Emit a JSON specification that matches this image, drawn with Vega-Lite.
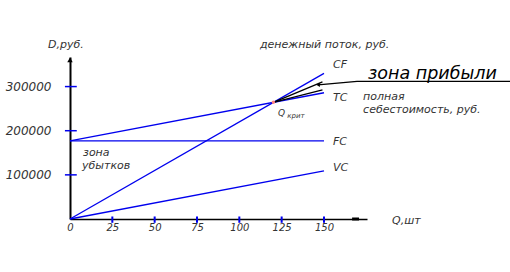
{
  "$schema": "https://vega.github.io/schema/vega-lite/v6.json",
  "width": 297,
  "height": 162,
  "autosize": {"type": "none"},
  "padding": {"left": 70, "top": 57, "right": 143, "bottom": 53},
  "background": "white",
  "config": {"view": {"stroke": null}, "font": "DejaVu Sans"},
  "datasets": {
    "lines": [
      {"series": "CF", "q": 0, "value": 0},
      {"series": "CF", "q": 150, "value": 330000},
      {"series": "TC", "q": 0, "value": 177000},
      {"series": "TC", "q": 150, "value": 286000},
      {"series": "FC", "q": 0, "value": 177000},
      {"series": "FC", "q": 150, "value": 177000},
      {"series": "VC", "q": 0, "value": 0},
      {"series": "VC", "q": 150, "value": 109000},
      {"series": "H1", "q": 120.1, "value": 264300},
      {"series": "H1", "q": 149.1, "value": 310800},
      {"series": "H2", "q": 120.1, "value": 264300},
      {"series": "H2", "q": 149.1, "value": 292700},
      {"series": "L", "q": 146.5, "value": 304000},
      {"series": "L", "q": 169.5, "value": 312000},
      {"series": "L", "q": 260, "value": 312000}
    ],
    "yticks": [{"value": 100000}, {"value": 200000}, {"value": 300000}],
    "xticks": [{"q": 25}, {"q": 50}, {"q": 75}, {"q": 100}, {"q": 125}, {"q": 150}],
    "notes": [
      {"q": -13, "value": 394700, "label": "D,руб."},
      {"q": 112.2, "value": 394700, "label": "денежный поток, руб."},
      {"q": 155.3, "value": 349300, "label": "CF"},
      {"q": 155.3, "value": 274600, "label": "TC"},
      {"q": 173.1, "value": 276300, "label": "полная"},
      {"q": 173.1, "value": 246800, "label": "себестоимость, руб."},
      {"q": 155.3, "value": 174900, "label": "FC"},
      {"q": 155.3, "value": 116000, "label": "VC"},
      {"q": 7.7, "value": 150300, "label": "зона"},
      {"q": 7.1, "value": 120800, "label": "убытков"},
      {"q": 190.2, "value": -4100, "label": "Q,шт"}
    ],
    "qmain": [{"q": 122.9, "value": 240600, "label": "Q"}],
    "qsub": [{"q": 128.3, "value": 234000, "label": "крит"}],
    "big": [{"q": 176, "value": 317600, "label": "зона прибыли"}],
    "breakeven": [{"q": 120.1, "value": 264300}],
    "arrow": [{"q": 146.5, "value": 304000}]
  },
  "layer": [
    {
      "data": {"name": "lines"},
      "mark": {"type": "line", "strokeWidth": 1.3},
      "encoding": {
        "x": {
          "field": "q", "type": "quantitative",
          "scale": {"domain": [0, 175.4], "nice": false, "zero": false},
          "axis": {
            "values": [0, 25, 50, 75, 100, 125, 150], "title": null, "ticks": false, "tickSize": 0,
            "grid": false, "domainColor": "black", "domainWidth": 1.5, "labelPadding": 3,
            "labelFontSize": 10, "labelFontStyle": "italic", "labelColor": "#333",
            "labelFlush": false, "labelOverlap": false, "labelFont": "DejaVu Sans"
          }
        },
        "y": {
          "field": "value", "type": "quantitative",
          "scale": {"domain": [0, 367000], "nice": false},
          "axis": {
            "values": [100000, 200000, 300000], "format": "d", "title": null, "ticks": false, "tickSize": 0,
            "grid": false, "domainColor": "black", "domainWidth": 2, "labelPadding": 19,
            "labelFontSize": 12, "labelFontStyle": "italic", "labelColor": "#333",
            "labelOverlap": false, "labelFont": "DejaVu Sans"
          }
        },
        "color": {
          "field": "series", "type": "nominal", "legend": null,
          "scale": {"domain": ["CF", "TC", "FC", "VC", "H1", "H2", "L"],
                    "range": ["#0000ee", "#0000ee", "#0000ee", "#0000ee", "#000000", "#000000", "#000000"]}
        }
      }
    },
    {
      "data": {"name": "yticks"},
      "mark": {"type": "rule", "color": "#0000ee", "strokeWidth": 1.5},
      "encoding": {
        "x": {"datum": -3, "type": "quantitative"},
        "x2": {"datum": 4},
        "y": {"field": "value", "type": "quantitative"}
      }
    },
    {
      "data": {"name": "xticks"},
      "mark": {"type": "rule", "color": "#0000ee", "strokeWidth": 2},
      "encoding": {
        "x": {"field": "q", "type": "quantitative"},
        "y": {"datum": 5700, "type": "quantitative"},
        "y2": {"datum": -8600}
      }
    },
    {
      "data": {"values": [{}]},
      "mark": {"type": "point", "shape": "triangle-up", "filled": true, "color": "black", "size": 30, "opacity": 1},
      "encoding": {
        "x": {"datum": 0, "type": "quantitative"},
        "y": {"datum": 360700, "type": "quantitative"}
      }
    },
    {
      "data": {"values": [{}]},
      "mark": {"type": "rule", "color": "black", "strokeWidth": 3},
      "encoding": {
        "x": {"datum": 166.6, "type": "quantitative"},
        "x2": {"datum": 170.7},
        "y": {"datum": 0, "type": "quantitative"}
      }
    },
    {
      "data": {"name": "arrow"},
      "mark": {"type": "point", "shape": "triangle-left", "filled": true, "color": "black", "size": 18, "opacity": 1},
      "encoding": {
        "x": {"field": "q", "type": "quantitative"},
        "y": {"field": "value", "type": "quantitative"}
      }
    },
    {
      "data": {"name": "breakeven"},
      "mark": {"type": "point", "shape": "circle", "filled": true, "color": "#ff8080", "size": 12, "opacity": 1},
      "encoding": {
        "x": {"field": "q", "type": "quantitative"},
        "y": {"field": "value", "type": "quantitative"}
      }
    },
    {
      "data": {"name": "notes"},
      "mark": {"type": "text", "align": "left", "baseline": "middle", "fontSize": 11, "fontStyle": "italic", "color": "#333", "font": "DejaVu Sans"},
      "encoding": {
        "x": {"field": "q", "type": "quantitative"},
        "y": {"field": "value", "type": "quantitative"},
        "text": {"field": "label"}
      }
    },
    {
      "data": {"name": "qmain"},
      "mark": {"type": "text", "align": "left", "baseline": "middle", "fontSize": 9, "fontStyle": "italic", "color": "#333", "font": "DejaVu Sans"},
      "encoding": {
        "x": {"field": "q", "type": "quantitative"},
        "y": {"field": "value", "type": "quantitative"},
        "text": {"field": "label"}
      }
    },
    {
      "data": {"name": "qsub"},
      "mark": {"type": "text", "align": "left", "baseline": "middle", "fontSize": 7, "fontStyle": "italic", "color": "#333", "font": "DejaVu Sans"},
      "encoding": {
        "x": {"field": "q", "type": "quantitative"},
        "y": {"field": "value", "type": "quantitative"},
        "text": {"field": "label"}
      }
    },
    {
      "data": {"name": "big"},
      "mark": {"type": "text", "align": "left", "baseline": "alphabetic", "fontSize": 17.5, "fontStyle": "italic", "color": "black", "font": "DejaVu Sans"},
      "encoding": {
        "x": {"field": "q", "type": "quantitative"},
        "y": {"field": "value", "type": "quantitative"},
        "text": {"field": "label"}
      }
    }
  ]
}
